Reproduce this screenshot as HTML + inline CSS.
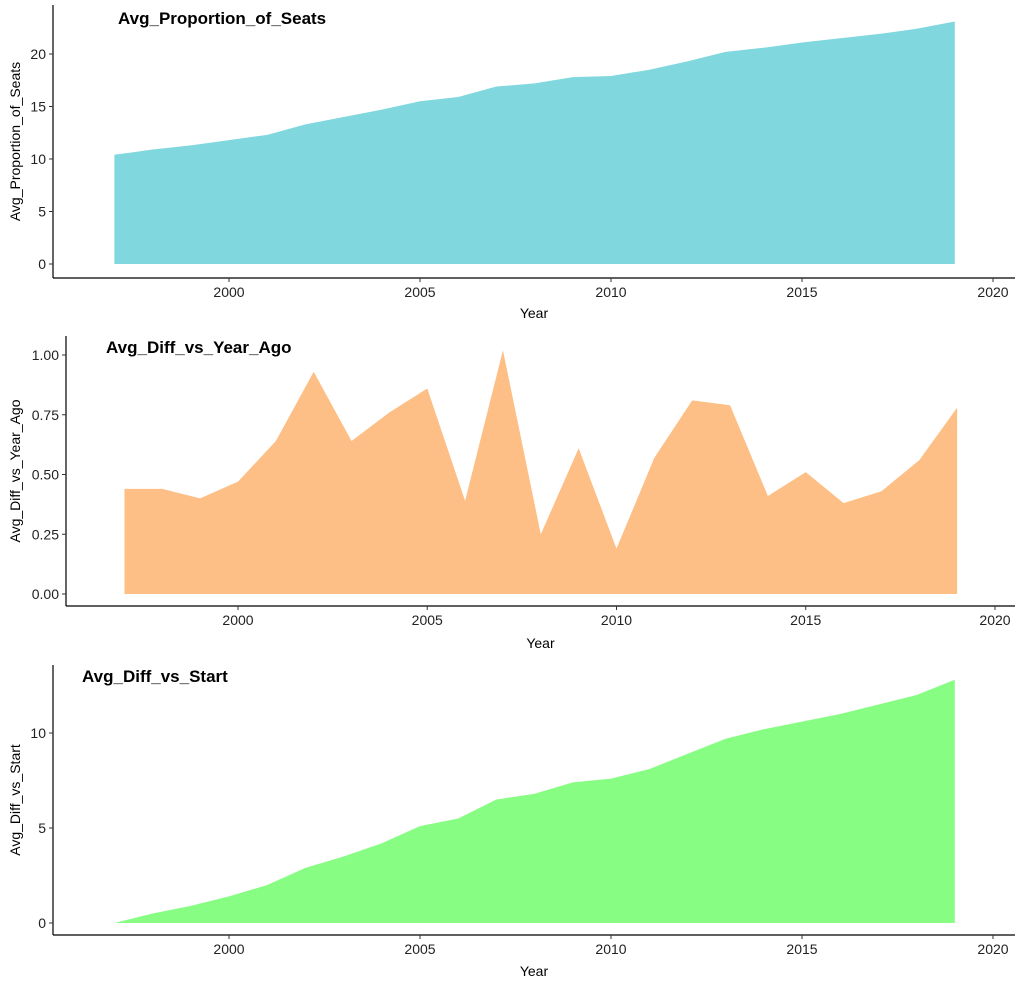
<!DOCTYPE html>
<html><head><meta charset="utf-8"><style>
body{margin:0;background:#fff;font-family:"Liberation Sans",Arial,sans-serif}
svg text{font-family:"Liberation Sans",Arial,sans-serif}
</style></head><body>
<svg id="c" width="1024" height="988" xmlns="http://www.w3.org/2000/svg"></svg>
<script>
const years=[1997,1998,1999,2000,2001,2002,2003,2004,2005,2006,2007,2008,2009,2010,2011,2012,2013,2014,2015,2016,2017,2018,2019];
const seats=[10.4,10.9,11.3,11.8,12.3,13.3,14.0,14.7,15.5,15.9,16.9,17.2,17.8,17.9,18.5,19.3,20.2,20.6,21.1,21.5,21.9,22.4,23.1];
const diffYear=[0.44,0.44,0.40,0.47,0.64,0.93,0.64,0.76,0.86,0.39,1.02,0.25,0.61,0.19,0.57,0.81,0.79,0.41,0.51,0.38,0.43,0.56,0.78];
const diffStart=[0,0.5,0.9,1.4,2.0,2.9,3.5,4.2,5.1,5.5,6.5,6.8,7.4,7.6,8.1,8.9,9.7,10.2,10.6,11.0,11.5,12.0,12.8];
const xTicks=[2000,2005,2010,2015,2020];
const yTicks1=[0,5,10,15,20], yTicks2=[0,0.25,0.5,0.75,1.0], yTicks3=[0,5,10];
const yLabels2=["0.00","0.25","0.50","0.75","1.00"];
const svg=document.getElementById('c');const NS='http://www.w3.org/2000/svg';
function mk(t,a,txt){const e=document.createElementNS(NS,t);for(const k in a)e.setAttribute(k,a[k]);if(txt!==undefined)e.textContent=txt;svg.appendChild(e);return e;}
const panels=[
 {name:'seats',vals:seats,ticks:yTicks1,labels:yTicks1.map(String),color:'#80d8de',title:'Avg_Proportion_of_Seats',ylab:'Avg_Proportion_of_Seats',ax:53,axTop:5,axBot:278,x0:229,x1:993,yZero:264,yRef:20,yRefPx:54,titleX:118,titleY:24,ylabX:20,xlabY:318},
 {name:'diff-year-ago',vals:diffYear,ticks:yTicks2,labels:yLabels2,color:'#fdbf85',title:'Avg_Diff_vs_Year_Ago',ylab:'Avg_Diff_vs_Year_Ago',ax:66,axTop:336,axBot:606,x0:238,x1:995,yZero:594,yRef:1,yRefPx:355,titleX:106,titleY:353,ylabX:20,xlabY:648},
 {name:'diff-start',vals:diffStart,ticks:yTicks3,labels:yTicks3.map(String),color:'#88fd83',title:'Avg_Diff_vs_Start',ylab:'Avg_Diff_vs_Start',ax:53,axTop:665,axBot:935,x0:229,x1:993,yZero:923,yRef:10,yRefPx:733,titleX:82,titleY:682,ylabX:20,xlabY:976}
];
panels.forEach(p=>{
 const xs=y=>p.x0+(y-2000)*(p.x1-p.x0)/20;
 const ys=v=>p.yZero+(p.yRefPx-p.yZero)*v/p.yRef;
 let d='M'+xs(years[0])+','+ys(0);
 years.forEach((y,i)=>{d+=' L'+xs(y)+','+ys(p.vals[i]);});
 d+=' L'+xs(years[years.length-1])+','+ys(0)+' Z';
 const a=mk('path',{d:d,fill:p.color});
 
 
 mk('line',{x1:p.ax,y1:p.axTop,x2:p.ax,y2:p.axBot,stroke:'#000','stroke-width':1.2,});
 mk('line',{x1:p.ax,y1:p.axBot,x2:1015,y2:p.axBot,stroke:'#000','stroke-width':1.2,});
 xTicks.forEach(t=>{mk('line',{x1:xs(t),y1:p.axBot,x2:xs(t),y2:p.axBot+4,stroke:'#333'});
  const e=mk('text',{x:xs(t),y:p.axBot+19,'text-anchor':'middle','font-size':14,fill:'#222'},String(t));
  });
 p.ticks.forEach((t,i)=>{mk('line',{x1:p.ax-4,y1:ys(t),x2:p.ax,y2:ys(t),stroke:'#333'});
  const e=mk('text',{x:p.ax-7,y:ys(t)+5,'text-anchor':'end','font-size':14,fill:'#222'},p.labels[i]);
  });
 mk('text',{x:p.titleX,y:p.titleY,'font-size':17,'font-weight':'bold',fill:'#000',},p.title);
 mk('text',{x:(p.ax+1015)/2,y:p.xlabY,'text-anchor':'middle','font-size':14,fill:'#000',},'Year');
 const cy=(p.axTop+p.axBot)/2;
 mk('text',{x:p.ylabX,y:cy,'text-anchor':'middle','font-size':14,fill:'#000',transform:'rotate(-90 '+p.ylabX+' '+cy+')',},p.ylab);
});
</script>
</body></html>
